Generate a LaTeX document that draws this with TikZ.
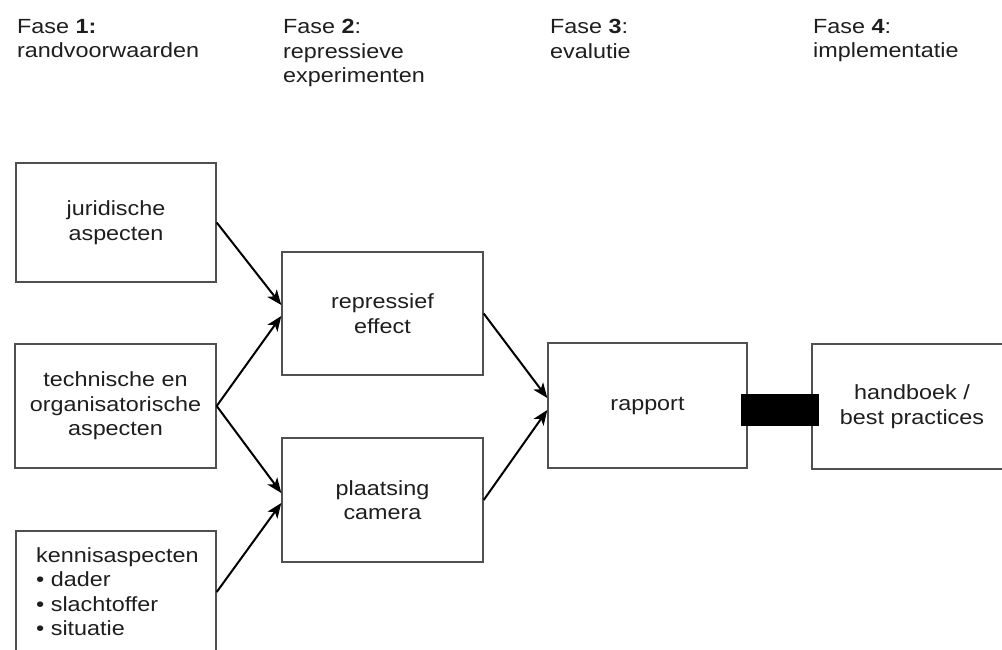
\documentclass[tikz,border=0pt]{standalone}
\usepackage{fontspec}
\setmainfont{Liberation Sans}[FakeStretch=1.14]
\usetikzlibrary{arrows.meta}
\definecolor{txt}{HTML}{1E1E1E}
\definecolor{edge}{HTML}{505050}
\tikzset{
  box/.style={draw=edge, line width=1.4pt, rectangle, inner sep=0pt, align=center, text=txt,
    font=\fontsize{20.5}{24.5}\selectfont},
  head/.style={anchor=north west, inner sep=0pt, align=left, text=txt,
    font=\fontsize{20.5}{24.5}\selectfont},
  conn/.style={line width=2pt, -{Stealth[length=15pt,width=12pt,inset=4pt]}},
}
\begin{document}
\begin{tikzpicture}[x=1pt,y=-1pt]
\useasboundingbox (0,0) rectangle (1002,649);
\clip (0,0) rectangle (1002,649);
% headers
\node[head] (h1) at (17,19) {Fase \textbf{1:}\\randvoorwaarden};
\node[head] (h2) at (283,19) {Fase \textbf{2}:\\repressieve\\experimenten};
\node[head] (h3) at (550,19) {Fase \textbf{3}:\\evalutie};
\node[head] (h4) at (813,19) {Fase \textbf{4}:\\implementatie};
% boxes
\node[box, minimum width=200pt, minimum height=119pt] (jur) at (116,222.5) {juridische\\aspecten};
\node[box, minimum width=201pt, minimum height=124pt] (tec) at (115.5,406) {technische en\\organisatorische\\aspecten};
\node[box, minimum width=200pt, minimum height=140pt] (ken) at (116,601) {};
\node[head] (kent) at (36,547) {kennisaspecten\\\textbullet\ dader\\\textbullet\ slachtoffer\\\textbullet\ situatie};
\node[box, minimum width=201pt, minimum height=123pt] (rep) at (382.5,313.5) {repressief\\effect};
\node[box, minimum width=201pt, minimum height=124pt] (pla) at (382.5,500) {plaatsing\\camera};
\node[box, minimum width=199pt, minimum height=125pt] (rap) at (647.5,405.5) {rapport};
\node[box, minimum width=200pt, minimum height=125pt] (hb) at (912,406.5) {handboek /\\best practices};
\node[fill=black, inner sep=0pt, minimum width=78pt, minimum height=32pt] (blk) at (780,410) {};
% connectors
\draw[conn] (jur.east) -- ([yshift=8.5pt]rep.west);
\draw[conn] (tec.east) -- ([yshift=-2.5pt]rep.west);
\draw[conn] (tec.east) -- ([yshift=7pt]pla.west);
\draw[conn] ([yshift=9pt]ken.east) -- ([yshift=-3pt]pla.west);
\draw[conn] (rep.east) -- ([yshift=7.5pt]rap.west);
\draw[conn] (pla.east) -- ([yshift=-4.5pt]rap.west);
\end{tikzpicture}
\end{document}
